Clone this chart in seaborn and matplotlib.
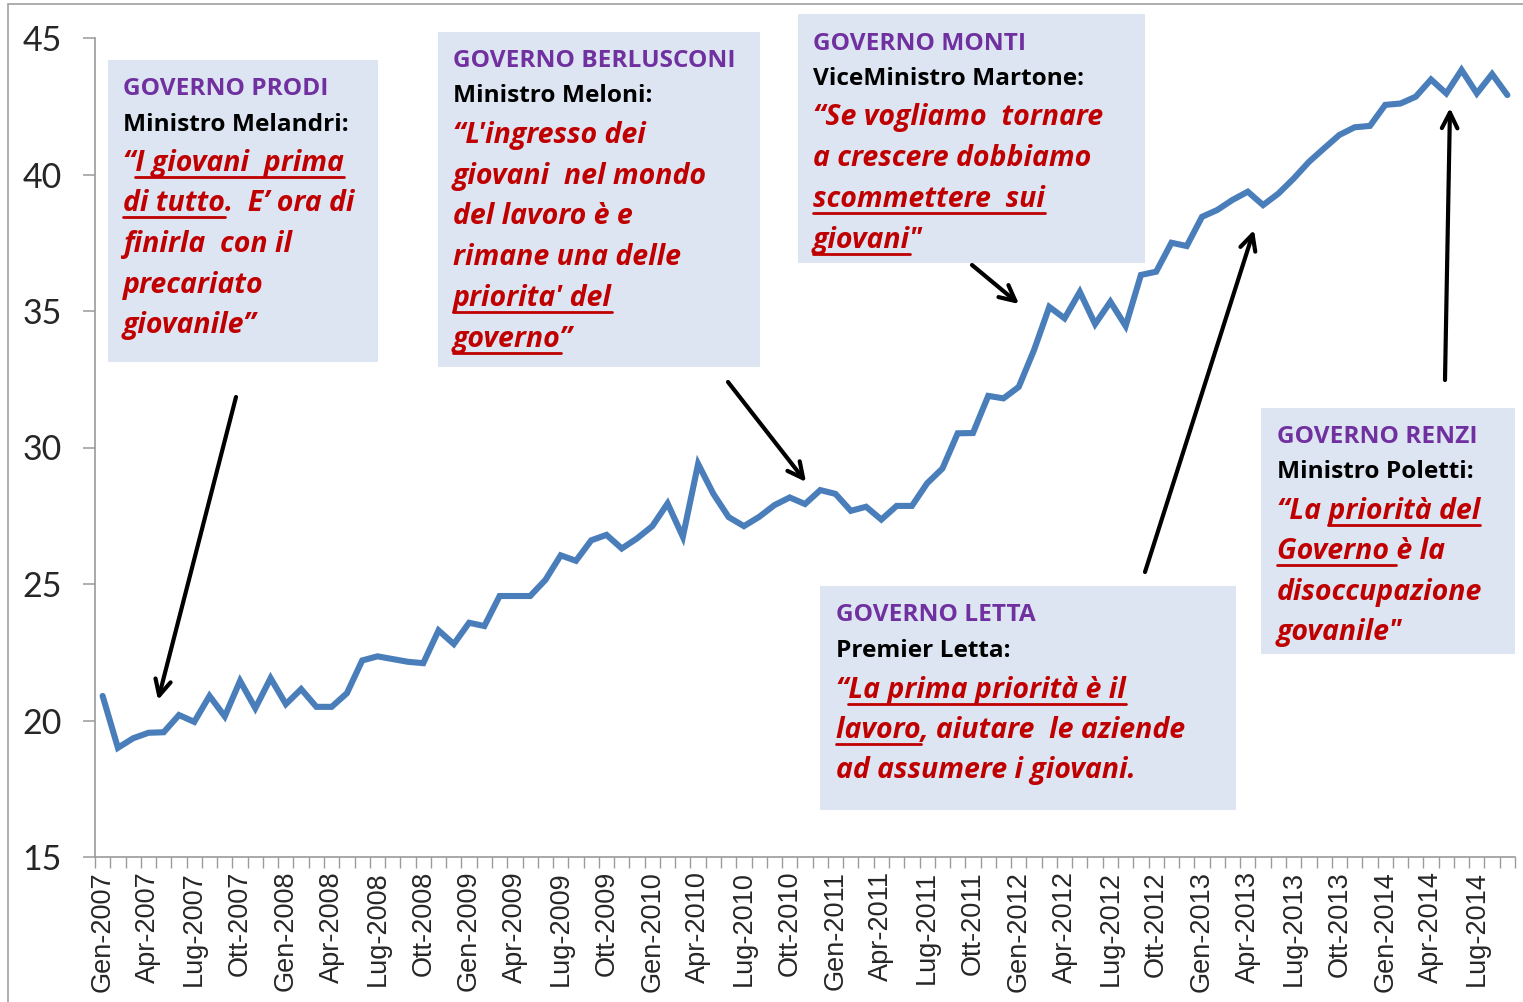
import matplotlib
matplotlib.use("Agg")
import matplotlib.pyplot as plt
import numpy as np
import pandas as pd
import seaborn as sns
from matplotlib.transforms import IdentityTransform
from matplotlib.patches import Rectangle
from matplotlib.ticker import FixedLocator

# ---------------- data ----------------
month_names = ["Gen", "Feb", "Mar", "Apr", "Mag", "Giu", "Lug", "Ago", "Set", "Ott", "Nov", "Dic"]
years = [2007, 2008, 2009, 2010, 2011, 2012, 2013, 2014]
n_months = 93  # Gen-2007 .. Set-2014

rate = [
    20.9, 19.0, 19.35, 19.55, 19.57, 20.2, 19.95, 20.9, 20.15, 21.45, 20.45, 21.55,   # 2007
    20.6, 21.15, 20.5, 20.5, 21.0, 22.2, 22.35, 22.25, 22.15, 22.1, 23.3, 22.8,       # 2008
    23.58, 23.46, 24.56, 24.56, 24.56, 25.15, 26.05, 25.85, 26.6, 26.8, 26.3, 26.67,  # 2009
    27.12, 27.95, 26.73, 29.4, 28.3, 27.45, 27.12, 27.46, 27.89, 28.17, 27.93, 28.44, # 2010
    28.3, 27.68, 27.83, 27.36, 27.86, 27.86, 28.69, 29.23, 30.52, 30.53, 31.89, 31.8, # 2011
    32.22, 33.57, 35.15, 34.73, 35.7, 34.52, 35.34, 34.45, 36.32, 36.44, 37.5, 37.38, # 2012
    38.45, 38.7, 39.07, 39.37, 38.88, 39.3, 39.85, 40.46, 40.96, 41.45, 41.73, 41.78, # 2013
    42.55, 42.6, 42.85, 43.48, 42.97, 43.83, 42.97, 43.68, 42.91,                     # 2014
]

periods = [f"{m}-{y}" for y in years for m in month_names][:n_months]
yticks = [15, 20, 25, 30, 35, 40, 45]

df = pd.DataFrame({"idx": np.arange(len(rate)), "periodo": periods, "tasso": rate})

# ---------------- figure ----------------
W, H = 1523, 1002
sns.set_theme(style="white")
plt.rcParams["font.family"] = ["Lato", "DejaVu Sans"]

fig = plt.figure(figsize=(W / 100, H / 100), dpi=100)
ax = fig.add_axes([95 / W, 1 - 857 / H, (1515 - 95) / W, (857 - 38) / H])

sns.lineplot(data=df, x="idx", y="tasso", ax=ax, color="#4A7EBB", linewidth=4.4,
             solid_joinstyle="miter")

ax.set_xlim(-0.5, len(rate) - 0.5)
ax.set_ylim(15, 45)
ax.set_xlabel("")
ax.set_ylabel("")

for s in ["top", "right"]:
    ax.spines[s].set_visible(False)
for s in ["left", "bottom"]:
    ax.spines[s].set_color("#9a9a9a")
    ax.spines[s].set_linewidth(1.2)

ax.set_yticks(yticks)
ax.set_yticklabels([str(v) for v in yticks], fontsize=24.5, family=["Lato", "DejaVu Sans"])
ax.tick_params(axis="y", direction="out", length=9, width=1.1, color="#9a9a9a", pad=15, left=True)

lab_pos = list(range(0, len(rate), 3))
ax.set_xticks(lab_pos)
ax.set_xticklabels([periods[i] for i in lab_pos], rotation=90, fontsize=19.5,
                   family=["Liberation Sans", "DejaVu Sans"], va="top", ha="center")
ax.tick_params(axis="x", which="major", length=0, pad=10, bottom=True)
ax.xaxis.set_minor_locator(FixedLocator(np.arange(-0.5, len(rate), 1.0)))
ax.tick_params(axis="x", which="minor", direction="out", length=8, width=1.0,
               color="#9a9a9a", bottom=True)
ax.grid(False)

# figure frame (thin gray border at top/left)
fig.patches.append(Rectangle((8, -20), 1700, H - 4 + 20, transform=IdentityTransform(),
                             fill=False, edgecolor="#a0a0a0", linewidth=1.2))

# ---------------- annotations ----------------
renderer = fig.canvas.get_renderer()
PURPLE = "#7030A0"
RED = "#C00000"
BOX = "#DCE5F1"
FONT = ["Open Sans", "DejaVu Sans"]


def txt_width(s, **kw):
    t = fig.text(0, 0, "|" + s + "|", transform=IdentityTransform(), **kw)
    w1 = t.get_window_extent(renderer).width
    t.remove()
    t = fig.text(0, 0, "||", transform=IdentityTransform(), **kw)
    w0 = t.get_window_extent(renderer).width
    t.remove()
    return w1 - w0


def put(x, ybase, s, underline=None, **kw):
    """Draw text with baseline at pixel (x, ybase from top); underline list of substrings."""
    fig.text(x, H - ybase, s, transform=IdentityTransform(), va="baseline", ha="left", **kw)
    if underline:
        for u in underline:
            k = s.index(u)
            x0 = x + txt_width(s[:k], **kw) if k > 0 else x
            x1 = x + txt_width(s[:k + len(u)], **kw)
            fig.add_artist(plt.Line2D([x0, x1], [H - ybase - 6, H - ybase - 6],
                                      transform=IdentityTransform(), color=kw.get("color", RED),
                                      linewidth=2.0))


def box(x0, y0, x1, y1):
    fig.patches.append(Rectangle((x0, H - y1), x1 - x0, y1 - y0, transform=IdentityTransform(),
                                 facecolor=BOX, edgecolor="none", zorder=0.5))


head_kw = dict(fontsize=17.6, fontweight="bold", color=PURPLE, family=FONT)
min_kw = dict(fontsize=17.6, fontweight="bold", color="black", family=FONT)
red_kw = dict(fontsize=20.5, fontweight="bold", style="italic", color=RED, family=FONT)

# PRODI
box(108, 60, 378, 362)
put(123, 95, "GOVERNO PRODI", **head_kw)
put(123, 131, "Ministro Melandri:", **min_kw)
put(123, 171, "“I giovani  prima", underline=["I giovani  prima"], **red_kw)
put(123, 211, "di tutto.  E’ ora di", underline=["di tutto"], **red_kw)
put(123, 252, "finirla  con il", **red_kw)
put(123, 293, "precariato", **red_kw)
put(123, 333, "giovanile”", **red_kw)

# BERLUSCONI
box(438, 32, 760, 367)
put(453, 67, "GOVERNO BERLUSCONI", **head_kw)
put(453, 102, "Ministro Meloni:", **min_kw)
put(453, 143, "“L'ingresso dei", **red_kw)
put(453, 184, "giovani  nel mondo", **red_kw)
put(453, 224, "del lavoro è e", **red_kw)
put(453, 265, "rimane una delle", **red_kw)
put(453, 306, "priorita' del", underline=["priorita' del"], **red_kw)
put(453, 347, "governo”", underline=["governo"], **red_kw)

# MONTI
box(798, 14, 1145, 263)
put(813, 50, "GOVERNO MONTI", **head_kw)
put(813, 85, "ViceMinistro Martone:", **min_kw)
put(813, 125, "“Se vogliamo  tornare", **red_kw)
put(813, 166, "a crescere dobbiamo", **red_kw)
put(813, 207, "scommettere  sui", underline=["scommettere  sui"], **red_kw)
put(813, 248, "giovani\"", underline=["giovani"], **red_kw)

# LETTA
box(820, 586, 1236, 810)
put(836, 621, "GOVERNO LETTA", **head_kw)
put(836, 657, "Premier Letta:", **min_kw)
put(836, 698, "“La prima priorità è il", underline=["La prima priorità è il"], **red_kw)
put(836, 738, "lavoro, aiutare  le aziende", underline=["lavoro"], **red_kw)
put(836, 778, "ad assumere i giovani.", **red_kw)

# RENZI
box(1261, 408, 1515, 654)
put(1277, 443, "GOVERNO RENZI", **head_kw)
put(1277, 478, "Ministro Poletti:", **min_kw)
put(1277, 519, "“La priorità del", underline=["priorità del"], **red_kw)
put(1277, 559, "Governo è la", underline=["Governo "], **red_kw)
put(1277, 600, "disoccupazione", **red_kw)
put(1277, 640, "govanile\"", **red_kw)

# arrows (figure pixel coordinates)
arrows = [((236, 397), (158, 700)),
          ((728, 382), (806, 482)),
          ((972, 265), (1019, 304)),
          ((1145, 572), (1254, 230)),
          ((1445, 380), (1450, 108))]
for (xs, ys), (xe, ye) in arrows:
    ax.annotate("", xy=(xe, H - ye), xycoords="figure pixels",
                xytext=(xs, H - ys), textcoords="figure pixels",
                arrowprops=dict(arrowstyle="->", color="black", lw=3, mutation_scale=28,
                                shrinkA=0, shrinkB=0))

fig.savefig("out.png", dpi=100)
